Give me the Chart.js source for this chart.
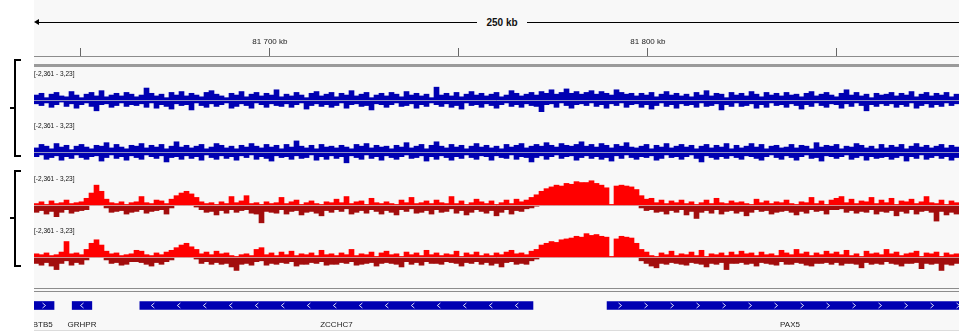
<!DOCTYPE html>
<html>
<head>
<meta charset="utf-8">
<script src="https://cdn.jsdelivr.net/npm/chart.js@4.4.1/dist/chart.umd.min.js"></script>
<style>
  body { margin: 0; background: #fff; font-family: 'Liberation Sans', Arial, sans-serif; }
  #igv { position: relative; width: 959px; height: 332px; overflow: hidden; }
  #igv div, #igv canvas { position: absolute; }
  .panel { left: 34px; top: 0; width: 925px; height: 330px; background: #f8f8f8; }
  .hline { left: 34px; width: 925px; height: 1px; background: #8c8c8c; }
  .rangeLbl { left: 34px; font-size: 6.5px; line-height: 10px; color: #111; white-space: nowrap; }
  .bracket { left: 14px; width: 5px; border: 2px solid #000; border-right: none; }
  .bracketTick { left: 10px; width: 4px; height: 2px; background: #000; }
</style>
</head>
<body>
<div id="igv">
  <div class="panel"></div>

  <!-- ruler -->
  <div style="left:34px;top:19px;width:0;height:0;border-top:3.5px solid transparent;border-bottom:3.5px solid transparent;border-right:5px solid #000;"></div>
  <div style="left:36px;top:22px;width:441px;height:1px;background:#000;"></div>
  <div style="left:527px;top:22px;width:432px;height:1px;background:#000;"></div>
  <div style="left:477px;top:16px;width:50px;text-align:center;font-size:10px;line-height:13px;font-weight:bold;color:#111;">250 kb</div>
  <canvas id="ruler" width="925" height="60" style="left:34px;top:0;"></canvas>
  <div style="left:34px;top:64px;width:925px;height:3px;background:#9a9a9a;"></div>

  <!-- group brackets -->
  <div class="bracket" style="top:59px;height:94px;"></div>
  <div class="bracketTick" style="top:107px;"></div>
  <div class="bracket" style="top:170px;height:93px;"></div>
  <div class="bracketTick" style="top:217px;"></div>

  <!-- data tracks -->
  <canvas id="t1" width="925" height="49" style="left:34px;top:72px;"></canvas>
  <canvas id="t2" width="925" height="49" style="left:34px;top:124px;"></canvas>
  <canvas id="t3" width="925" height="49" style="left:34px;top:177px;"></canvas>
  <canvas id="t4" width="925" height="49" style="left:34px;top:229px;"></canvas>
  <div class="rangeLbl" style="top:69px;">[-2,361 - 3,23]</div>
  <div class="rangeLbl" style="top:121px;">[-2,361 - 3,23]</div>
  <div class="rangeLbl" style="top:174px;">[-2,361 - 3,23]</div>
  <div class="rangeLbl" style="top:226px;">[-2,361 - 3,23]</div>

  <!-- genes -->
  <div class="hline" style="top:288px;"></div>
  <div class="hline" style="top:291px;"></div>
  <canvas id="genes" width="925" height="36" style="left:34px;top:296px;"></canvas>
  <div style="left:34px;top:330px;width:925px;height:1px;background:#dcdcdc;"></div>
</div>

<script>
const family = "'Liberation Sans', Arial, sans-serif";

// view window, kb
const viewStart = 81637.6;
const viewEnd = 81882.3;
const rulerTicks = [81650, 81700, 81750, 81800, 81850];

// data range of all four tracks
const rangeMin = -2.361;
const rangeMax = 3.23;

// per bin (~1.3 kb) highest and lowest value of each track
const blue1Up = [
  0.6,0.8,0.3,0.7,0.9,0.5,0.4,1.0,0.6,0.3,
  0.7,0.9,0.5,1.1,0.4,0.6,0.8,0.5,0.9,0.7,
  0.4,0.6,1.4,0.8,0.5,0.7,0.3,0.9,0.6,1.0,
  0.5,0.8,0.6,0.4,0.9,1.1,0.7,0.5,0.3,0.8,
  0.6,1.0,0.4,0.7,0.9,0.5,0.8,0.6,1.2,0.4,
  0.7,0.5,0.9,0.6,0.3,0.8,1.0,0.5,0.7,0.9,
  0.4,0.8,0.6,1.1,0.5,0.7,0.9,0.3,0.6,0.8,
  0.5,0.9,0.7,0.4,1.0,0.6,0.8,0.5,0.7,0.3,
  1.5,0.6,0.8,0.5,0.9,0.4,0.7,1.0,0.6,0.8,
  0.5,0.7,0.9,0.4,0.6,1.1,0.8,0.5,0.7,0.9,
  0.6,1.0,0.8,1.2,0.7,0.9,1.3,0.8,1.0,0.7,
  0.9,1.1,0.7,1.0,0.8,0.6,1.2,0.9,0.7,0.8,
  0.5,0.8,0.6,0.9,0.4,0.7,1.0,0.6,0.8,0.5,
  0.7,0.4,0.9,0.6,1.1,0.5,0.8,0.7,0.3,0.9,
  0.6,0.8,0.5,1.0,0.7,0.4,0.9,0.6,0.8,0.5,
  0.9,0.6,0.7,0.4,0.8,1.0,0.5,0.7,0.9,0.6,
  0.4,0.8,1.2,0.6,0.9,0.5,0.7,0.3,0.8,0.6,
  0.7,0.9,0.5,0.8,0.6,1.0,0.4,0.7,0.9,0.5,
  0.8,0.6,0.9,0.4,0.7
];
const blue1Down = [
  -0.4,-0.6,-0.3,-0.8,-0.5,-0.2,-0.7,-0.4,-0.9,-0.5,
  -0.3,-0.7,-1.2,-0.5,-0.4,-0.8,-0.6,-0.3,-0.7,-0.5,
  -0.6,-0.4,-0.8,-0.3,-0.9,-0.5,-0.7,-1.0,-0.4,-0.6,
  -0.5,-1.1,-0.3,-0.6,-0.8,-0.4,-0.7,-0.5,-0.3,-0.9,
  -0.7,-0.4,-0.6,-0.9,-0.3,-0.5,-0.8,-0.4,-0.6,-0.7,
  -0.4,-0.8,-0.5,-0.3,-1.0,-0.6,-0.4,-0.7,-0.5,-0.8,
  -0.6,-0.3,-0.9,-0.5,-0.4,-0.7,-0.6,-1.1,-0.4,-0.5,
  -0.8,-0.5,-0.3,-0.7,-0.6,-0.4,-0.9,-0.5,-0.7,-0.3,
  -0.5,-0.7,-0.4,-0.8,-0.6,-1.0,-0.3,-0.6,-0.5,-0.8,
  -0.4,-0.6,-0.9,-0.5,-0.3,-0.7,-0.5,-0.8,-0.4,-0.6,
  -0.7,-1.3,-0.5,-0.4,-0.8,-0.3,-0.6,-0.9,-0.5,-0.4,
  -0.6,-0.3,-0.7,-0.5,-0.9,-0.4,-0.6,-0.3,-0.8,-0.5,
  -0.4,-0.8,-0.5,-1.0,-0.6,-0.3,-0.7,-0.5,-0.9,-0.4,
  -0.6,-0.5,-0.8,-0.3,-0.7,-0.6,-0.4,-1.1,-0.5,-0.7,
  -0.3,-0.7,-0.6,-0.4,-0.9,-0.5,-0.8,-0.3,-0.6,-0.5,
  -0.8,-0.4,-0.6,-1.0,-0.5,-0.7,-0.3,-0.6,-0.8,-0.4,
  -0.5,-0.9,-0.4,-0.7,-0.3,-0.6,-1.2,-0.5,-0.7,-0.4,
  -0.6,-0.4,-0.8,-0.5,-0.7,-0.3,-0.9,-0.6,-0.4,-0.8,
  -0.5,-0.7,-0.3,-0.6,-0.4
];
const blue2Up = [
  0.5,0.9,0.7,0.4,1.0,0.6,0.8,0.3,0.7,0.9,
  0.6,0.4,0.8,0.7,1.1,0.5,0.9,0.6,0.4,0.8,
  0.7,1.0,0.5,0.8,0.6,0.9,0.4,0.7,1.2,0.6,
  0.8,0.5,0.7,0.9,0.4,0.6,1.0,0.8,0.5,0.7,
  0.4,0.8,0.6,1.0,0.7,0.5,0.9,0.6,0.8,0.4,
  0.9,0.6,1.3,0.7,0.5,0.8,0.4,0.9,0.6,0.7,
  0.5,0.8,0.6,0.4,0.9,0.7,1.0,0.5,0.8,0.6,
  0.7,0.4,0.8,0.6,1.1,0.5,0.7,0.9,0.4,0.8,
  1.2,0.7,0.5,0.9,0.6,0.8,0.4,0.7,1.0,0.6,
  0.8,0.5,0.7,0.4,0.9,0.6,0.8,1.0,0.5,0.7,
  0.9,0.7,1.1,0.8,0.6,1.0,0.8,0.7,0.9,1.2,
  0.7,0.9,0.6,1.0,0.8,0.5,0.9,0.7,1.1,0.6,
  0.5,0.7,0.9,0.4,0.8,0.6,1.0,0.5,0.7,0.9,
  0.6,0.8,0.4,0.7,0.9,0.5,0.8,0.6,1.0,0.4,
  0.8,0.5,0.7,1.0,0.6,0.9,0.4,0.7,0.8,0.5,
  0.6,0.9,0.5,0.8,0.7,0.4,1.1,0.6,0.8,0.7,
  0.9,0.4,0.7,0.6,1.0,0.8,0.5,0.7,0.4,0.9,
  0.5,0.8,0.6,0.9,0.4,0.7,1.0,0.6,0.8,0.5,
  0.7,0.9,0.5,0.8,0.6
];
const blue2Down = [
  -0.5,-0.3,-0.8,-0.6,-0.4,-0.9,-0.5,-0.7,-0.3,-0.6,
  -0.8,-0.5,-0.4,-1.0,-0.6,-0.3,-0.7,-0.5,-0.9,-0.4,
  -0.6,-0.8,-0.3,-0.5,-0.7,-0.4,-1.1,-0.6,-0.5,-0.8,
  -0.4,-0.7,-0.5,-0.9,-0.3,-0.6,-0.8,-0.4,-0.7,-0.5,
  -0.9,-0.4,-0.6,-0.3,-0.8,-0.5,-0.7,-1.0,-0.4,-0.6,
  -0.5,-0.8,-0.4,-0.7,-0.6,-0.3,-0.9,-0.5,-0.8,-0.4,
  -0.7,-0.5,-1.2,-0.4,-0.6,-0.8,-0.3,-0.7,-0.5,-0.9,
  -0.4,-0.6,-0.8,-0.5,-0.3,-0.7,-0.6,-0.4,-1.0,-0.5,
  -0.8,-0.4,-0.6,-0.9,-0.5,-0.7,-0.3,-0.6,-0.8,-0.4,
  -0.5,-0.9,-0.4,-0.6,-0.7,-0.3,-0.8,-0.5,-0.6,-1.1,
  -0.6,-0.4,-0.8,-0.5,-0.3,-0.7,-0.5,-0.4,-0.9,-0.6,
  -0.4,-0.7,-0.5,-0.8,-0.6,-1.0,-0.4,-0.7,-0.3,-0.6,
  -0.8,-0.5,-0.6,-0.4,-0.9,-0.7,-0.3,-0.6,-0.5,-0.8,
  -0.5,-0.3,-0.7,-1.1,-0.4,-0.6,-0.8,-0.5,-0.7,-0.4,
  -0.6,-0.8,-0.4,-0.5,-0.7,-0.9,-0.5,-0.3,-0.6,-0.8,
  -0.4,-0.6,-0.9,-0.5,-0.3,-0.7,-0.6,-1.0,-0.4,-0.5,
  -0.7,-0.5,-0.3,-0.8,-0.6,-0.4,-0.9,-0.5,-0.7,-0.6,
  -0.5,-0.8,-0.6,-0.4,-1.0,-0.5,-0.7,-0.3,-0.8,-0.6,
  -0.4,-0.7,-0.5,-0.9,-0.6
];
const red1Up = [
  0.2,0.4,0.1,0.5,0.2,0.3,0.6,0.2,0.3,0.4,
  0.8,1.4,2.3,1.6,0.7,0.3,0.2,0.4,0.1,0.3,
  0.4,1.0,0.3,0.2,0.6,0.5,0.2,0.7,1.1,1.4,
  1.6,1.3,0.9,0.4,0.2,0.3,0.1,0.4,0.2,1.0,
  0.3,0.5,1.1,0.2,0.3,0.1,0.4,0.2,0.3,0.9,
  0.2,0.4,0.6,0.1,0.3,0.5,0.2,0.1,0.4,0.3,
  0.7,0.3,1.0,0.2,0.4,0.5,0.1,0.8,0.3,0.2,
  0.4,0.2,0.1,0.6,0.3,0.9,0.2,0.3,0.5,0.2,
  0.6,0.3,0.2,1.0,0.2,0.5,0.1,0.3,0.7,0.4,
  0.2,0.5,0.1,0.3,0.6,0.2,0.7,0.4,0.6,0.9,
  1.2,1.6,1.9,2.1,2.3,2.2,2.5,2.4,2.7,2.6,
  2.6,2.8,2.5,2.3,2.0,0.1,2.2,2.3,2.2,2.1,
  1.8,1.1,0.7,0.8,0.3,0.6,0.2,0.5,0.3,0.6,
  0.2,0.4,0.1,0.3,0.6,0.2,0.8,0.3,0.2,0.5,
  0.3,0.4,0.2,0.1,0.7,0.3,0.5,0.2,0.4,0.3,
  0.6,0.2,0.1,0.4,0.3,0.9,0.2,0.5,0.1,0.6,
  0.8,1.0,0.3,0.7,0.2,0.5,0.4,0.9,0.2,0.6,
  0.3,0.8,0.1,0.5,0.4,0.7,0.2,0.4,1.0,0.3,
  0.2,0.6,0.1,0.5,0.3
];
const red1Down = [
  -0.8,-0.6,-1.0,-0.7,-1.3,-0.8,-0.5,-0.9,-0.7,-0.6,
  -0.5,0,0,0,-0.3,-0.8,-0.7,-0.6,-1.0,-0.8,
  -0.7,-0.5,-0.9,-0.7,-0.6,-0.5,-1.0,-0.3,0,0,
  0,0,-0.2,-0.5,-0.8,-0.7,-1.1,-0.6,-0.9,-0.5,
  -0.8,-0.6,-0.5,-0.9,-1.0,-2.0,-0.7,-0.8,-0.9,-0.5,
  -1.0,-0.7,-0.6,-1.1,-0.8,-0.7,-0.9,-1.2,-0.6,-0.8,
  -0.5,-0.7,-0.4,-1.0,-0.8,-0.6,-0.9,-0.5,-0.7,-1.0,
  -0.6,-0.8,-1.1,-0.5,-0.7,-0.4,-0.9,-0.8,-0.6,-1.0,
  -0.5,-0.8,-0.7,-0.4,-0.9,-0.6,-1.1,-0.8,-0.5,-0.7,
  -0.9,-0.6,-1.2,-0.8,-0.5,-1.0,-0.6,-0.7,-0.4,-0.3,
  -0.1,0,0,0,0,0,0,0,0,0,
  0,0,0,0,0,0,0,0,0,0,
  0,-0.3,-0.6,-0.5,-0.8,-0.7,-1.0,-0.6,-0.8,-0.5,
  -1.1,-0.7,-1.5,-0.8,-0.6,-0.9,-0.5,-1.0,-0.7,-0.6,
  -0.9,-0.7,-1.2,-0.8,-0.5,-0.7,-0.6,-1.0,-0.8,-0.7,
  -0.6,-0.8,-1.1,-0.7,-0.9,-0.5,-0.7,-0.6,-1.0,-0.5,
  -0.5,-0.4,-0.8,-0.6,-0.9,-0.7,-0.8,-0.5,-1.0,-0.7,
  -0.8,-0.6,-1.2,-0.7,-0.9,-0.5,-1.0,-0.7,-0.6,-0.8,
  -1.8,-0.7,-1.1,-0.8,-1.0
];
const red2Up = [
  0.4,0.3,0.5,0.2,0.3,0.6,1.8,0.4,0.5,0.3,
  0.9,1.6,2.0,1.4,0.7,0.4,0.5,0.2,0.3,0.4,
  0.8,0.7,0.3,0.2,0.5,0.3,0.6,0.8,1.1,1.4,
  1.6,1.2,0.9,0.4,0.6,0.3,0.7,0.4,0.5,0.2,
  0.1,0.3,0.4,0.2,0.9,1.1,0.3,0.5,0.2,0.6,
  0.3,0.7,0.2,0.4,0.3,0.5,0.2,0.8,0.3,0.4,
  0.2,0.5,0.3,0.9,0.2,0.4,0.3,0.6,0.1,0.5,
  0.7,0.3,0.4,0.1,0.6,0.3,0.5,0.2,0.8,0.3,
  0.5,0.2,0.4,0.3,0.7,0.1,0.5,0.3,0.6,0.2,
  0.4,0.2,0.5,0.3,0.6,0.8,0.4,0.5,0.3,0.7,
  0.9,1.4,1.6,1.8,1.7,2.0,2.1,2.2,2.4,2.3,
  2.7,2.5,2.6,2.4,2.3,0.1,2.1,2.4,2.3,2.2,
  1.6,0.9,0.6,0.2,0.1,0.5,0.3,0.7,0.2,0.4,
  0.3,0.6,0.2,0.8,0.1,0.4,0.3,0.5,0.2,0.6,
  0.3,0.7,0.4,0.5,0.2,0.6,0.3,0.4,0.2,0.8,
  0.5,0.3,0.9,0.4,0.6,0.2,0.5,0.3,0.7,0.4,
  0.6,0.3,0.8,0.2,0.4,0.1,0.7,0.4,0.5,0.3,
  0.9,0.4,0.6,0.2,0.4,0.5,0.7,0.1,0.5,0.4,
  0.6,0.1,0.5,0.3,0.4
];
const red2Down = [
  -0.7,-0.9,-0.6,-1.0,-1.4,-0.7,-0.4,-0.9,-0.6,-0.8,
  -0.3,0,0,0,-0.3,-0.7,-0.6,-0.9,-0.8,-0.5,
  -0.5,-0.6,-0.8,-1.0,-0.6,-0.8,-0.5,-0.3,0,0,
  0,0,-0.2,-0.7,-0.5,-0.8,-0.6,-0.8,-0.7,-1.1,
  -1.5,-0.8,-0.7,-0.9,-0.5,-0.4,-0.9,-0.7,-0.8,-0.6,
  -0.7,-0.5,-1.0,-0.8,-0.8,-0.6,-0.7,-0.5,-0.9,-0.8,
  -0.8,-0.6,-0.7,-0.5,-0.9,-0.8,-0.7,-0.6,-1.0,-0.7,
  -0.6,-0.7,-0.8,-1.1,-0.5,-0.8,-0.6,-0.9,-0.5,-0.7,
  -0.7,-0.8,-0.5,-0.6,-0.7,-1.0,-0.6,-0.7,-0.5,-0.8,
  -0.6,-0.9,-0.7,-1.1,-0.6,-0.5,-0.8,-0.7,-0.8,-0.4,
  -0.2,0,0,0,0,0,0,0,0,0,
  0,0,0,0,0,0,0,0,0,0,
  0,-0.4,-0.7,-1.0,-1.2,-0.7,-0.8,-0.6,-0.7,-0.8,
  -0.9,-0.6,-0.7,-0.8,-1.1,-0.7,-0.8,-0.6,-1.4,-0.7,
  -0.7,-0.6,-0.8,-0.7,-1.0,-0.6,-0.7,-0.8,-0.9,-0.5,
  -0.8,-0.8,-0.6,-0.7,-0.9,-1.0,-0.7,-0.7,-0.6,-0.8,
  -0.6,-0.9,-0.7,-0.7,-0.8,-1.2,-0.6,-0.8,-0.7,-0.8,
  -0.5,-0.7,-0.8,-1.0,-0.7,-0.7,-0.6,-1.3,-0.7,-0.8,
  -0.7,-1.5,-0.8,-0.9,-0.7
];

// refseq genes, kb
const geneNames = ['ZBTB5', 'GRHPR', 'ZCCHC7', 'PAX5'];
const geneStart = [81635.6, 81647.7, 81665.6, 81789.2];
const geneEnd = [81642.9, 81652.9, 81769.6, 81886.0];
const geneStrand = ['+', '-', '-', '+'];

const kbLabel = v => Math.floor(v / 1000) + ' ' + String(v % 1000).padStart(3, '0') + ' kb';

// ruler: tick marks from the axis, labels over the major ones
const rulerLabels = {
  id: 'rulerLabels',
  afterDraw(chart) {
    const { ctx, scales: { x } } = chart;
    ctx.save();
    ctx.fillStyle = '#222';
    ctx.font = '8px ' + family;
    ctx.textAlign = 'center';
    ctx.textBaseline = 'middle';
    rulerTicks.filter(v => v % 100 === 0).forEach(v => {
      ctx.fillText(kbLabel(v), x.getPixelForValue(v), 41.5);
    });
    ctx.restore();
  }
};

new Chart(document.getElementById('ruler'), {
  type: 'scatter',
  data: { datasets: [] },
  options: {
    responsive: false,
    animation: false,
    events: [],
    layout: { padding: { top: 48, left: 0, right: 0, bottom: 0 } },
    plugins: { legend: { display: false }, tooltip: { enabled: false } },
    scales: {
      x: {
        type: 'linear',
        position: 'top',
        min: viewStart,
        max: viewEnd,
        afterBuildTicks: s => { s.ticks = rulerTicks.map(v => ({ value: v })); },
        ticks: { display: false },
        grid: { drawOnChartArea: false, tickLength: 8, color: '#666' },
        border: { color: '#8c8c8c' }
      },
      y: { display: false }
    }
  },
  plugins: [rulerLabels]
});

// light line at zero
const zeroLine = {
  id: 'zeroLine',
  afterDatasetsDraw(chart) {
    const { ctx, chartArea: a, scales: { y } } = chart;
    const py = Math.round(y.getPixelForValue(0)) + 0.5;
    ctx.save();
    ctx.strokeStyle = 'rgba(205,205,205,0.7)';
    ctx.lineWidth = 1;
    ctx.beginPath();
    ctx.moveTo(a.left, py);
    ctx.lineTo(a.right, py);
    ctx.stroke();
    ctx.restore();
  }
};

function track(id, up, down, pos, neg) {
  new Chart(document.getElementById(id), {
    type: 'bar',
    data: {
      labels: up.map((v, i) => i),
      datasets: [
        { data: up, backgroundColor: pos, borderWidth: 0, grouped: false, barPercentage: 1, categoryPercentage: 1 },
        { data: down, backgroundColor: neg, borderWidth: 0, grouped: false, barPercentage: 1, categoryPercentage: 1 }
      ]
    },
    options: {
      responsive: false,
      animation: false,
      events: [],
      layout: { padding: 0 },
      plugins: { legend: { display: false }, tooltip: { enabled: false } },
      scales: {
        x: { display: false },
        y: { display: false, min: rangeMin, max: rangeMax }
      }
    },
    plugins: [zeroLine]
  });
}

track('t1', blue1Up, blue1Down, '#0000b2', '#0000b2');
track('t2', blue2Up, blue2Down, '#0000b2', '#0000b2');
track('t3', red1Up, red1Down, '#ff0000', '#a30d0d');
track('t4', red2Up, red2Down, '#ff0000', '#a30d0d');

// gene arrows and names
const geneDecor = {
  id: 'geneDecor',
  afterDatasetsDraw(chart) {
    const { ctx, scales: { x } } = chart;
    const bars = chart.getDatasetMeta(0).data;
    ctx.save();
    ctx.strokeStyle = 'rgba(255,255,255,0.85)';
    ctx.lineWidth = 1;
    bars.forEach((bar, i) => {
      const left = Math.min(bar.x, bar.base), right = Math.max(bar.x, bar.base);
      const dir = geneStrand[i] === '+' ? 1 : -1;
      const marks = [];
      if (right - left < 30) marks.push((Math.max(left, 0) + right) / 2);
      else for (let cx = left + 13; cx < right - 4; cx += 26) marks.push(cx);
      marks.forEach(cx => {
        ctx.beginPath();
        ctx.moveTo(cx - 1.5 * dir, bar.y - 2.5);
        ctx.lineTo(cx + 1.5 * dir, bar.y);
        ctx.lineTo(cx - 1.5 * dir, bar.y + 2.5);
        ctx.stroke();
      });
    });
    ctx.fillStyle = '#222';
    ctx.font = '8px ' + family;
    ctx.textAlign = 'center';
    ctx.textBaseline = 'middle';
    geneNames.forEach((n, i) => {
      ctx.fillText(n, x.getPixelForValue((geneStart[i] + geneEnd[i]) / 2), 29);
    });
    ctx.restore();
  }
};

new Chart(document.getElementById('genes'), {
  type: 'bar',
  data: {
    labels: ['genes'],
    datasets: [{
      data: geneNames.map((n, i) => ({ x: [geneStart[i], geneEnd[i]], y: 'genes' })),
      backgroundColor: '#0000b2',
      borderWidth: 0,
      barThickness: 8
    }]
  },
  options: {
    indexAxis: 'y',
    responsive: false,
    animation: false,
    events: [],
    layout: { padding: { top: 0, bottom: 17, left: 0, right: 0 } },
    plugins: { legend: { display: false }, tooltip: { enabled: false } },
    scales: {
      x: { type: 'linear', min: viewStart, max: viewEnd, display: false },
      y: { display: false }
    }
  },
  plugins: [geneDecor]
});
</script>
</body>
</html>
